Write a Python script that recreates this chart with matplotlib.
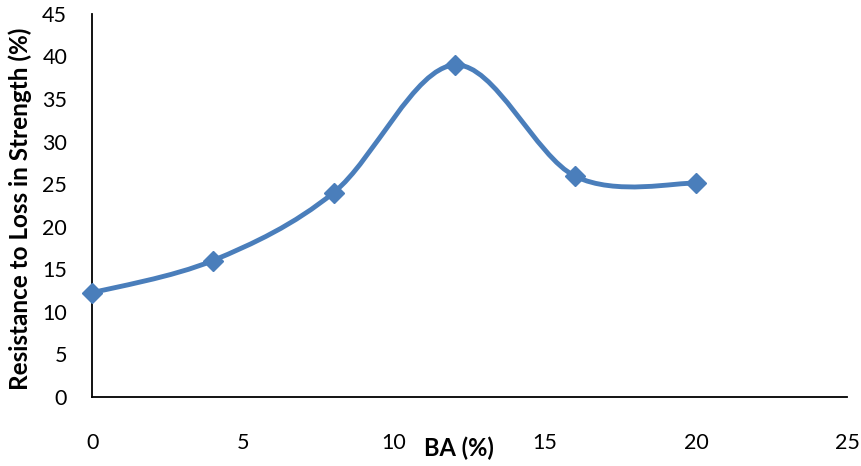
import numpy as np
import matplotlib.pyplot as plt
from matplotlib.path import Path
from matplotlib.patches import PathPatch

# BA content vs resistance to loss in strength
ba_pct = [0, 4, 8, 12, 16, 20]
resistance = [12.2, 16.0, 24.0, 39.0, 25.9, 25.1]
x_ticks = [0, 5, 10, 15, 20, 25]
y_ticks = [0, 5, 10, 15, 20, 25, 30, 35, 40, 45]

blue = '#4a7ebb'
plt.rcParams['font.family'] = ['Lato', 'DejaVu Sans']

fig = plt.figure(figsize=(8.61, 4.66), dpi=100)
ax = fig.add_axes([0.107, 0.149, 0.877, 0.821])

# smoothed line: catmull-rom segments turned into cubic bezier curves
pts = np.column_stack([ba_pct, resistance]).astype(float)
ext = np.vstack([pts[0], pts, pts[-1]])
verts = [pts[0]]
codes = [Path.MOVETO]
for i in range(1, len(ext) - 2):
    p0, p1, p2, p3 = ext[i - 1], ext[i], ext[i + 1], ext[i + 2]
    c1 = p1 + (p2 - p0) / 6
    c2 = p2 - (p3 - p1) / 6
    verts += [c1, c2, p2]
    codes += [Path.CURVE4] * 3
ax.add_patch(PathPatch(Path(verts, codes), facecolor='none', edgecolor=blue,
                       lw=3.5, capstyle='round', joinstyle='round', zorder=3))
ax.plot(ba_pct, resistance, ls='none', marker='D', ms=10.5, color=blue, zorder=4,
        clip_on=False)

ax.set_xlim(0, 25)
ax.set_ylim(0, 45)
ax.set_xticks(x_ticks)
ax.set_yticks(y_ticks)
ax.tick_params(length=0, labelsize=15.5, colors='#000000')
ax.tick_params(axis='x', pad=26)
ax.tick_params(axis='y', pad=18)
for s in ['top', 'right']:
    ax.spines[s].set_visible(False)
for s in ['left', 'bottom']:
    ax.spines[s].set_linewidth(1.3)

ax.set_xlabel('BA (%)', fontsize=17, fontweight='bold')
ax.xaxis.set_label_coords(0.486, -0.105)
ax.set_ylabel('Resistance to Loss in Strength (%)', fontsize=17.5, fontweight='bold')
ax.yaxis.set_label_coords(-0.079, 0.49)

fig.savefig('out.png', dpi=100)
